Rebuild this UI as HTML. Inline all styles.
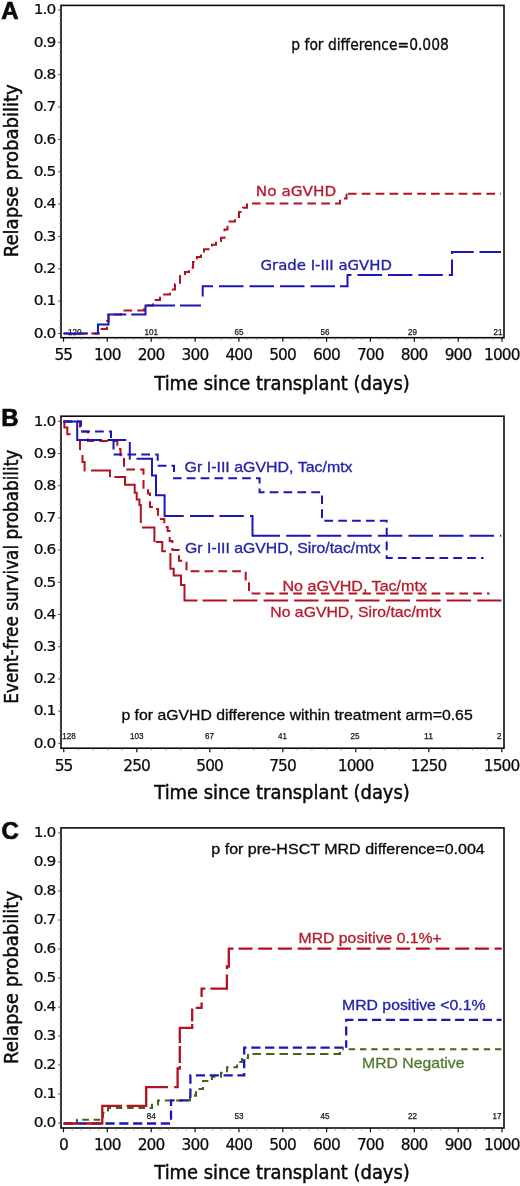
<!DOCTYPE html>
<html lang="en"><head><meta charset="utf-8"><title>Figure</title>
<style>html,body{margin:0;padding:0;background:#fff}svg{display:block}text{white-space:pre}</style>
</head><body>
<svg width="520" height="1186" viewBox="0 0 520 1186">
<rect width="520" height="1186" fill="#fff"/>
<rect x="61" y="5.4" width="443" height="332.3" fill="none" stroke="#0a0a0a" stroke-width="1.6"/>
<text transform="translate(55.5,337.8) scale(1.0,0.91)" font-size="15.4" letter-spacing="-0.9" font-family='"DejaVu Sans",sans-serif' fill="#0a0a0a" stroke="#0a0a0a" stroke-width="0.25" text-anchor="end">0.0</text>
<path d="M58.2,333.5H61" stroke="#444" stroke-width="1"/>
<text transform="translate(55.5,305.4) scale(1.0,0.91)" font-size="15.4" letter-spacing="-0.9" font-family='"DejaVu Sans",sans-serif' fill="#0a0a0a" stroke="#0a0a0a" stroke-width="0.25" text-anchor="end">0.1</text>
<path d="M58.2,301.1H61" stroke="#444" stroke-width="1"/>
<text transform="translate(55.5,273.1) scale(1.0,0.91)" font-size="15.4" letter-spacing="-0.9" font-family='"DejaVu Sans",sans-serif' fill="#0a0a0a" stroke="#0a0a0a" stroke-width="0.25" text-anchor="end">0.2</text>
<path d="M58.2,268.8H61" stroke="#444" stroke-width="1"/>
<text transform="translate(55.5,240.8) scale(1.0,0.91)" font-size="15.4" letter-spacing="-0.9" font-family='"DejaVu Sans",sans-serif' fill="#0a0a0a" stroke="#0a0a0a" stroke-width="0.25" text-anchor="end">0.3</text>
<path d="M58.2,236.4H61" stroke="#444" stroke-width="1"/>
<text transform="translate(55.5,208.4) scale(1.0,0.91)" font-size="15.4" letter-spacing="-0.9" font-family='"DejaVu Sans",sans-serif' fill="#0a0a0a" stroke="#0a0a0a" stroke-width="0.25" text-anchor="end">0.4</text>
<path d="M58.2,204.1H61" stroke="#444" stroke-width="1"/>
<text transform="translate(55.5,176.1) scale(1.0,0.91)" font-size="15.4" letter-spacing="-0.9" font-family='"DejaVu Sans",sans-serif' fill="#0a0a0a" stroke="#0a0a0a" stroke-width="0.25" text-anchor="end">0.5</text>
<path d="M58.2,171.8H61" stroke="#444" stroke-width="1"/>
<text transform="translate(55.5,143.7) scale(1.0,0.91)" font-size="15.4" letter-spacing="-0.9" font-family='"DejaVu Sans",sans-serif' fill="#0a0a0a" stroke="#0a0a0a" stroke-width="0.25" text-anchor="end">0.6</text>
<path d="M58.2,139.4H61" stroke="#444" stroke-width="1"/>
<text transform="translate(55.5,111.3) scale(1.0,0.91)" font-size="15.4" letter-spacing="-0.9" font-family='"DejaVu Sans",sans-serif' fill="#0a0a0a" stroke="#0a0a0a" stroke-width="0.25" text-anchor="end">0.7</text>
<path d="M58.2,107.0H61" stroke="#444" stroke-width="1"/>
<text transform="translate(55.5,79.0) scale(1.0,0.91)" font-size="15.4" letter-spacing="-0.9" font-family='"DejaVu Sans",sans-serif' fill="#0a0a0a" stroke="#0a0a0a" stroke-width="0.25" text-anchor="end">0.8</text>
<path d="M58.2,74.7H61" stroke="#444" stroke-width="1"/>
<text transform="translate(55.5,46.6) scale(1.0,0.91)" font-size="15.4" letter-spacing="-0.9" font-family='"DejaVu Sans",sans-serif' fill="#0a0a0a" stroke="#0a0a0a" stroke-width="0.25" text-anchor="end">0.9</text>
<path d="M58.2,42.3H61" stroke="#444" stroke-width="1"/>
<text transform="translate(55.5,14.3) scale(1.0,0.91)" font-size="15.4" letter-spacing="-0.9" font-family='"DejaVu Sans",sans-serif' fill="#0a0a0a" stroke="#0a0a0a" stroke-width="0.25" text-anchor="end">1.0</text>
<path d="M58.2,10.0H61" stroke="#444" stroke-width="1"/>
<path d="M59.2,327.0H61M59.2,320.6H61M59.2,314.1H61M59.2,307.6H61M59.2,294.7H61M59.2,288.2H61M59.2,281.7H61M59.2,275.3H61M59.2,262.3H61M59.2,255.9H61M59.2,249.4H61M59.2,242.9H61M59.2,230.0H61M59.2,223.5H61M59.2,217.0H61M59.2,210.6H61M59.2,197.6H61M59.2,191.2H61M59.2,184.7H61M59.2,178.2H61M59.2,165.3H61M59.2,158.8H61M59.2,152.3H61M59.2,145.9H61M59.2,132.9H61M59.2,126.5H61M59.2,120.0H61M59.2,113.5H61M59.2,100.6H61M59.2,94.1H61M59.2,87.6H61M59.2,81.2H61M59.2,68.2H61M59.2,61.8H61M59.2,55.3H61M59.2,48.8H61M59.2,35.9H61M59.2,29.4H61M59.2,22.9H61M59.2,16.5H61" stroke="#777" stroke-width="0.7"/>
<path d="M63.5,337.7V341.7" stroke="#0a0a0a" stroke-width="1.2"/>
<text transform="translate(63.35,360.0) scale(1.0,1)" font-size="15.4" letter-spacing="-0.9" font-family='"DejaVu Sans",sans-serif' fill="#0a0a0a" stroke="#0a0a0a" stroke-width="0.25" text-anchor="middle">55</text>
<path d="M107.3,337.7V341.7" stroke="#0a0a0a" stroke-width="1.2"/>
<text transform="translate(107.25,360.0) scale(1.0,1)" font-size="15.4" letter-spacing="-0.9" font-family='"DejaVu Sans",sans-serif' fill="#0a0a0a" stroke="#0a0a0a" stroke-width="0.25" text-anchor="middle">100</text>
<path d="M151.2,337.7V341.7" stroke="#0a0a0a" stroke-width="1.2"/>
<text transform="translate(151.05,360.0) scale(1.0,1)" font-size="15.4" letter-spacing="-0.9" font-family='"DejaVu Sans",sans-serif' fill="#0a0a0a" stroke="#0a0a0a" stroke-width="0.25" text-anchor="middle">200</text>
<path d="M195.1,337.7V341.7" stroke="#0a0a0a" stroke-width="1.2"/>
<text transform="translate(194.95,360.0) scale(1.0,1)" font-size="15.4" letter-spacing="-0.9" font-family='"DejaVu Sans",sans-serif' fill="#0a0a0a" stroke="#0a0a0a" stroke-width="0.25" text-anchor="middle">300</text>
<path d="M238.9,337.7V341.7" stroke="#0a0a0a" stroke-width="1.2"/>
<text transform="translate(238.75,360.0) scale(1.0,1)" font-size="15.4" letter-spacing="-0.9" font-family='"DejaVu Sans",sans-serif' fill="#0a0a0a" stroke="#0a0a0a" stroke-width="0.25" text-anchor="middle">400</text>
<path d="M282.8,337.7V341.7" stroke="#0a0a0a" stroke-width="1.2"/>
<text transform="translate(282.55,360.0) scale(1.0,1)" font-size="15.4" letter-spacing="-0.9" font-family='"DejaVu Sans",sans-serif' fill="#0a0a0a" stroke="#0a0a0a" stroke-width="0.25" text-anchor="middle">500</text>
<path d="M326.6,337.7V341.7" stroke="#0a0a0a" stroke-width="1.2"/>
<text transform="translate(326.45,360.0) scale(1.0,1)" font-size="15.4" letter-spacing="-0.9" font-family='"DejaVu Sans",sans-serif' fill="#0a0a0a" stroke="#0a0a0a" stroke-width="0.25" text-anchor="middle">600</text>
<path d="M370.4,337.7V341.7" stroke="#0a0a0a" stroke-width="1.2"/>
<text transform="translate(370.25,360.0) scale(1.0,1)" font-size="15.4" letter-spacing="-0.9" font-family='"DejaVu Sans",sans-serif' fill="#0a0a0a" stroke="#0a0a0a" stroke-width="0.25" text-anchor="middle">700</text>
<path d="M414.3,337.7V341.7" stroke="#0a0a0a" stroke-width="1.2"/>
<text transform="translate(414.15,360.0) scale(1.0,1)" font-size="15.4" letter-spacing="-0.9" font-family='"DejaVu Sans",sans-serif' fill="#0a0a0a" stroke="#0a0a0a" stroke-width="0.25" text-anchor="middle">800</text>
<path d="M458.2,337.7V341.7" stroke="#0a0a0a" stroke-width="1.2"/>
<text transform="translate(458.05,360.0) scale(1.0,1)" font-size="15.4" letter-spacing="-0.9" font-family='"DejaVu Sans",sans-serif' fill="#0a0a0a" stroke="#0a0a0a" stroke-width="0.25" text-anchor="middle">900</text>
<path d="M502.0,337.7V341.7" stroke="#0a0a0a" stroke-width="1.2"/>
<text transform="translate(501.85,360.0) scale(1.0,1)" font-size="15.4" letter-spacing="-0.9" font-family='"DejaVu Sans",sans-serif' fill="#0a0a0a" stroke="#0a0a0a" stroke-width="0.25" text-anchor="middle">1000</text>
<path d="M72.3,337.7V339.9M81.0,337.7V339.9M89.8,337.7V339.9M98.6,337.7V339.9M116.1,337.7V339.9M124.9,337.7V339.9M133.7,337.7V339.9M142.4,337.7V339.9M160.0,337.7V339.9M168.7,337.7V339.9M177.5,337.7V339.9M186.3,337.7V339.9M203.8,337.7V339.9M212.6,337.7V339.9M221.4,337.7V339.9M230.1,337.7V339.9M247.7,337.7V339.9M256.4,337.7V339.9M265.2,337.7V339.9M274.0,337.7V339.9M291.5,337.7V339.9M300.3,337.7V339.9M309.1,337.7V339.9M317.8,337.7V339.9M335.4,337.7V339.9M344.1,337.7V339.9M352.9,337.7V339.9M361.7,337.7V339.9M379.2,337.7V339.9M388.0,337.7V339.9M396.8,337.7V339.9M405.5,337.7V339.9M423.1,337.7V339.9M431.8,337.7V339.9M440.6,337.7V339.9M449.4,337.7V339.9M466.9,337.7V339.9M475.7,337.7V339.9M484.5,337.7V339.9M493.2,337.7V339.9" stroke="#777" stroke-width="0.7"/>
<text x="154.3" y="389.5" font-size="19.7" font-family='"DejaVu Sans Condensed","DejaVu Sans",sans-serif' fill="#0a0a0a" textLength="255.5" lengthAdjust="spacingAndGlyphs" stroke="#0a0a0a" stroke-width="0.45">Time since transplant (days)</text>
<text transform="translate(18.3,170.7) rotate(-90)" font-size="19.7" font-family='"DejaVu Sans Condensed","DejaVu Sans",sans-serif' fill="#0a0a0a" stroke="#0a0a0a" stroke-width="0.45" text-anchor="middle" textLength="173" lengthAdjust="spacingAndGlyphs">Relapse probability</text>
<text x="1.2" y="18.5" font-size="24" font-family='"Liberation Sans",sans-serif' fill="#0a0a0a" font-weight="bold" stroke="#0a0a0a" stroke-width="0.7">A</text>
<text x="291.3" y="49.5" font-size="15.2" font-family='"DejaVu Sans Condensed","DejaVu Sans",sans-serif' fill="#0a0a0a" textLength="157.5" lengthAdjust="spacingAndGlyphs" stroke="#0a0a0a" stroke-width="0.3">p for difference=0.008</text>
<text x="255.8" y="195.8" font-size="14.6" font-family='"DejaVu Sans Condensed","DejaVu Sans",sans-serif' fill="#b81c2c" textLength="80.5" lengthAdjust="spacingAndGlyphs" stroke="#b81c2c" stroke-width="0.3">No aGVHD</text>
<text x="260.5" y="270.4" font-size="14.8" font-family='"DejaVu Sans Condensed","DejaVu Sans",sans-serif' fill="#2424a8" textLength="131.5" lengthAdjust="spacingAndGlyphs" stroke="#2424a8" stroke-width="0.3">Grade I-III aGVHD</text>
<text x="74.7" y="334.6" font-size="8.8" font-family='"Liberation Sans",sans-serif' fill="#151515" text-anchor="middle" textLength="13.5" lengthAdjust="spacingAndGlyphs" stroke="#151515" stroke-width="0.25">120</text>
<text x="151.2" y="334.6" font-size="8.8" font-family='"Liberation Sans",sans-serif' fill="#151515" text-anchor="middle" textLength="13.5" lengthAdjust="spacingAndGlyphs" stroke="#151515" stroke-width="0.25">101</text>
<text x="239" y="334.6" font-size="8.8" font-family='"Liberation Sans",sans-serif' fill="#151515" text-anchor="middle" textLength="9.0" lengthAdjust="spacingAndGlyphs" stroke="#151515" stroke-width="0.25">65</text>
<text x="325" y="334.6" font-size="8.8" font-family='"Liberation Sans",sans-serif' fill="#151515" text-anchor="middle" textLength="9.0" lengthAdjust="spacingAndGlyphs" stroke="#151515" stroke-width="0.25">56</text>
<text x="412.5" y="334.6" font-size="8.8" font-family='"Liberation Sans",sans-serif' fill="#151515" text-anchor="middle" textLength="9.0" lengthAdjust="spacingAndGlyphs" stroke="#151515" stroke-width="0.25">29</text>
<text x="502.5" y="334.6" font-size="8.8" font-family='"Liberation Sans",sans-serif' fill="#151515" text-anchor="end" textLength="9.0" lengthAdjust="spacingAndGlyphs" stroke="#151515" stroke-width="0.25">21</text>
<path d="M63.5,333.5H100V329H107V321H108.5V314.5H121V310.4H144V305.6H153V300H160V294.6H170V289.5H175V284H180V276H185V272H189V267.8H193V262H197V257H201V252.7H204V249.3H212V244.7H216V241H221V237.7H224.5V229.6H227.5V221.6H235V217H239V212H243V207.7H247V203.4H340V198.5H346.5V193.8" fill="none" stroke="#b4101f" stroke-width="2.0" stroke-dasharray="8.7 5.15"/>
<path d="M346.5,193.8H501" fill="none" stroke="#b4101f" stroke-width="2.0" stroke-dasharray="8.7 5.15" stroke-dashoffset="12.45"/>
<path d="M63.5,333.5 L98,333.5 L98,324.5 L108.5,324.5 L108.5,314.6 L145.5,314.6 L145.5,305.5 L202.7,305.5 L202.7,286.2 L347.5,286.2 L347.5,275 L452,275 L452,252 L501,252" fill="none" stroke="#1a16b8" stroke-width="2.0" stroke-dasharray="24.5 5.75 51.4 5.0 52.85 5.0 21.0 10.7 20.6 6.0 24.5 6.0 24.5 6.0 24.5 6.0 24.5 5.0 22.7 6.0 24.5 6.0 24.4 6.0 24.4 6.0 18.7 5.5 23.7 5.8 22.5 9999"/>
<rect x="61" y="416.2" width="443" height="332.00000000000006" fill="none" stroke="#0a0a0a" stroke-width="1.6"/>
<text transform="translate(55.5,747.6) scale(1.0,0.91)" font-size="15.4" letter-spacing="-0.9" font-family='"DejaVu Sans",sans-serif' fill="#0a0a0a" stroke="#0a0a0a" stroke-width="0.25" text-anchor="end">0.0</text>
<path d="M58.2,743.3H61" stroke="#444" stroke-width="1"/>
<text transform="translate(55.5,715.4) scale(1.0,0.91)" font-size="15.4" letter-spacing="-0.9" font-family='"DejaVu Sans",sans-serif' fill="#0a0a0a" stroke="#0a0a0a" stroke-width="0.25" text-anchor="end">0.1</text>
<path d="M58.2,711.1H61" stroke="#444" stroke-width="1"/>
<text transform="translate(55.5,683.2) scale(1.0,0.91)" font-size="15.4" letter-spacing="-0.9" font-family='"DejaVu Sans",sans-serif' fill="#0a0a0a" stroke="#0a0a0a" stroke-width="0.25" text-anchor="end">0.2</text>
<path d="M58.2,678.9H61" stroke="#444" stroke-width="1"/>
<text transform="translate(55.5,651.0) scale(1.0,0.91)" font-size="15.4" letter-spacing="-0.9" font-family='"DejaVu Sans",sans-serif' fill="#0a0a0a" stroke="#0a0a0a" stroke-width="0.25" text-anchor="end">0.3</text>
<path d="M58.2,646.7H61" stroke="#444" stroke-width="1"/>
<text transform="translate(55.5,618.8) scale(1.0,0.91)" font-size="15.4" letter-spacing="-0.9" font-family='"DejaVu Sans",sans-serif' fill="#0a0a0a" stroke="#0a0a0a" stroke-width="0.25" text-anchor="end">0.4</text>
<path d="M58.2,614.5H61" stroke="#444" stroke-width="1"/>
<text transform="translate(55.5,586.6) scale(1.0,0.91)" font-size="15.4" letter-spacing="-0.9" font-family='"DejaVu Sans",sans-serif' fill="#0a0a0a" stroke="#0a0a0a" stroke-width="0.25" text-anchor="end">0.5</text>
<path d="M58.2,582.3H61" stroke="#444" stroke-width="1"/>
<text transform="translate(55.5,554.4) scale(1.0,0.91)" font-size="15.4" letter-spacing="-0.9" font-family='"DejaVu Sans",sans-serif' fill="#0a0a0a" stroke="#0a0a0a" stroke-width="0.25" text-anchor="end">0.6</text>
<path d="M58.2,550.1H61" stroke="#444" stroke-width="1"/>
<text transform="translate(55.5,522.2) scale(1.0,0.91)" font-size="15.4" letter-spacing="-0.9" font-family='"DejaVu Sans",sans-serif' fill="#0a0a0a" stroke="#0a0a0a" stroke-width="0.25" text-anchor="end">0.7</text>
<path d="M58.2,517.9H61" stroke="#444" stroke-width="1"/>
<text transform="translate(55.5,490.0) scale(1.0,0.91)" font-size="15.4" letter-spacing="-0.9" font-family='"DejaVu Sans",sans-serif' fill="#0a0a0a" stroke="#0a0a0a" stroke-width="0.25" text-anchor="end">0.8</text>
<path d="M58.2,485.7H61" stroke="#444" stroke-width="1"/>
<text transform="translate(55.5,457.8) scale(1.0,0.91)" font-size="15.4" letter-spacing="-0.9" font-family='"DejaVu Sans",sans-serif' fill="#0a0a0a" stroke="#0a0a0a" stroke-width="0.25" text-anchor="end">0.9</text>
<path d="M58.2,453.5H61" stroke="#444" stroke-width="1"/>
<text transform="translate(55.5,425.6) scale(1.0,0.91)" font-size="15.4" letter-spacing="-0.9" font-family='"DejaVu Sans",sans-serif' fill="#0a0a0a" stroke="#0a0a0a" stroke-width="0.25" text-anchor="end">1.0</text>
<path d="M58.2,421.3H61" stroke="#444" stroke-width="1"/>
<path d="M59.2,736.9H61M59.2,730.4H61M59.2,724.0H61M59.2,717.5H61M59.2,704.7H61M59.2,698.2H61M59.2,691.8H61M59.2,685.3H61M59.2,672.5H61M59.2,666.0H61M59.2,659.6H61M59.2,653.1H61M59.2,640.3H61M59.2,633.8H61M59.2,627.4H61M59.2,620.9H61M59.2,608.1H61M59.2,601.6H61M59.2,595.2H61M59.2,588.7H61M59.2,575.9H61M59.2,569.4H61M59.2,563.0H61M59.2,556.5H61M59.2,543.7H61M59.2,537.2H61M59.2,530.8H61M59.2,524.3H61M59.2,511.5H61M59.2,505.0H61M59.2,498.6H61M59.2,492.1H61M59.2,479.3H61M59.2,472.8H61M59.2,466.4H61M59.2,459.9H61M59.2,447.1H61M59.2,440.6H61M59.2,434.2H61M59.2,427.7H61" stroke="#777" stroke-width="0.7"/>
<path d="M63.8,748.3V752.3" stroke="#0a0a0a" stroke-width="1.2"/>
<text transform="translate(63.55,770.8) scale(1.0,1)" font-size="15.4" letter-spacing="-0.9" font-family='"DejaVu Sans",sans-serif' fill="#0a0a0a" stroke="#0a0a0a" stroke-width="0.25" text-anchor="middle">55</text>
<path d="M136.8,748.3V752.3" stroke="#0a0a0a" stroke-width="1.2"/>
<text transform="translate(136.65,770.8) scale(1.0,1)" font-size="15.4" letter-spacing="-0.9" font-family='"DejaVu Sans",sans-serif' fill="#0a0a0a" stroke="#0a0a0a" stroke-width="0.25" text-anchor="middle">250</text>
<path d="M209.8,748.3V752.3" stroke="#0a0a0a" stroke-width="1.2"/>
<text transform="translate(209.65,770.8) scale(1.0,1)" font-size="15.4" letter-spacing="-0.9" font-family='"DejaVu Sans",sans-serif' fill="#0a0a0a" stroke="#0a0a0a" stroke-width="0.25" text-anchor="middle">500</text>
<path d="M282.8,748.3V752.3" stroke="#0a0a0a" stroke-width="1.2"/>
<text transform="translate(282.55,770.8) scale(1.0,1)" font-size="15.4" letter-spacing="-0.9" font-family='"DejaVu Sans",sans-serif' fill="#0a0a0a" stroke="#0a0a0a" stroke-width="0.25" text-anchor="middle">750</text>
<path d="M355.8,748.3V752.3" stroke="#0a0a0a" stroke-width="1.2"/>
<text transform="translate(355.55,770.8) scale(1.0,1)" font-size="15.4" letter-spacing="-0.9" font-family='"DejaVu Sans",sans-serif' fill="#0a0a0a" stroke="#0a0a0a" stroke-width="0.25" text-anchor="middle">1000</text>
<path d="M428.8,748.3V752.3" stroke="#0a0a0a" stroke-width="1.2"/>
<text transform="translate(428.55,770.8) scale(1.0,1)" font-size="15.4" letter-spacing="-0.9" font-family='"DejaVu Sans",sans-serif' fill="#0a0a0a" stroke="#0a0a0a" stroke-width="0.25" text-anchor="middle">1250</text>
<path d="M501.8,748.3V752.3" stroke="#0a0a0a" stroke-width="1.2"/>
<text transform="translate(501.55,770.8) scale(1.0,1)" font-size="15.4" letter-spacing="-0.9" font-family='"DejaVu Sans",sans-serif' fill="#0a0a0a" stroke="#0a0a0a" stroke-width="0.25" text-anchor="middle">1500</text>
<path d="M78.3,748.3V750.5M93.0,748.3V750.5M107.5,748.3V750.5M122.2,748.3V750.5M151.3,748.3V750.5M165.9,748.3V750.5M180.6,748.3V750.5M195.2,748.3V750.5M224.3,748.3V750.5M238.9,748.3V750.5M253.6,748.3V750.5M268.1,748.3V750.5M297.4,748.3V750.5M311.9,748.3V750.5M326.6,748.3V750.5M341.1,748.3V750.5M370.4,748.3V750.5M384.9,748.3V750.5M399.6,748.3V750.5M414.1,748.3V750.5M443.4,748.3V750.5M457.9,748.3V750.5M472.6,748.3V750.5M487.1,748.3V750.5" stroke="#777" stroke-width="0.7"/>
<text x="154.3" y="799.2" font-size="19.7" font-family='"DejaVu Sans Condensed","DejaVu Sans",sans-serif' fill="#0a0a0a" textLength="255.5" lengthAdjust="spacingAndGlyphs" stroke="#0a0a0a" stroke-width="0.45">Time since transplant (days)</text>
<text transform="translate(17.6,576.7) rotate(-90)" font-size="19.7" font-family='"DejaVu Sans Condensed","DejaVu Sans",sans-serif' fill="#0a0a0a" stroke="#0a0a0a" stroke-width="0.45" text-anchor="middle" textLength="254" lengthAdjust="spacingAndGlyphs">Event-free survival probability</text>
<text x="1.3" y="426" font-size="24" font-family='"Liberation Sans",sans-serif' fill="#0a0a0a" font-weight="bold" stroke="#0a0a0a" stroke-width="0.7">B</text>
<text x="121.4" y="720" font-size="14.3" font-family='"Liberation Sans",sans-serif' fill="#0a0a0a" textLength="351.3" lengthAdjust="spacingAndGlyphs" stroke="#0a0a0a" stroke-width="0.3">p for aGVHD difference within treatment arm=0.65</text>
<text x="184.6" y="471.6" font-size="14.3" font-family='"Liberation Sans",sans-serif' fill="#2424a8" textLength="168" lengthAdjust="spacingAndGlyphs" stroke="#2424a8" stroke-width="0.3">Gr I-III aGVHD, Tac/mtx</text>
<text x="185.1" y="552.6" font-size="14.3" font-family='"Liberation Sans",sans-serif' fill="#2424a8" textLength="195.5" lengthAdjust="spacingAndGlyphs" stroke="#2424a8" stroke-width="0.3">Gr I-III aGVHD, Siro/tac/mtx</text>
<text x="282.5" y="591.3" font-size="14.3" font-family='"Liberation Sans",sans-serif' fill="#b81c2c" textLength="144.5" lengthAdjust="spacingAndGlyphs" stroke="#b81c2c" stroke-width="0.3">No aGVHD, Tac/mtx</text>
<text x="270.3" y="616.5" font-size="14.3" font-family='"Liberation Sans",sans-serif' fill="#b81c2c" textLength="171" lengthAdjust="spacingAndGlyphs" stroke="#b81c2c" stroke-width="0.3">No aGVHD, Siro/tac/mtx</text>
<text x="68.9" y="739.2" font-size="8.8" font-family='"Liberation Sans",sans-serif' fill="#151515" text-anchor="middle" textLength="13.5" lengthAdjust="spacingAndGlyphs" stroke="#151515" stroke-width="0.25">128</text>
<text x="136.8" y="739.2" font-size="8.8" font-family='"Liberation Sans",sans-serif' fill="#151515" text-anchor="middle" textLength="13.5" lengthAdjust="spacingAndGlyphs" stroke="#151515" stroke-width="0.25">103</text>
<text x="209.5" y="739.2" font-size="8.8" font-family='"Liberation Sans",sans-serif' fill="#151515" text-anchor="middle" textLength="9.0" lengthAdjust="spacingAndGlyphs" stroke="#151515" stroke-width="0.25">67</text>
<text x="282.5" y="739.2" font-size="8.8" font-family='"Liberation Sans",sans-serif' fill="#151515" text-anchor="middle" textLength="9.0" lengthAdjust="spacingAndGlyphs" stroke="#151515" stroke-width="0.25">41</text>
<text x="355" y="739.2" font-size="8.8" font-family='"Liberation Sans",sans-serif' fill="#151515" text-anchor="middle" textLength="9.0" lengthAdjust="spacingAndGlyphs" stroke="#151515" stroke-width="0.25">25</text>
<text x="428.5" y="739.2" font-size="8.8" font-family='"Liberation Sans",sans-serif' fill="#151515" text-anchor="middle" textLength="9.0" lengthAdjust="spacingAndGlyphs" stroke="#151515" stroke-width="0.25">11</text>
<text x="501.5" y="739.2" font-size="8.8" font-family='"Liberation Sans",sans-serif' fill="#151515" text-anchor="end" textLength="4.5" lengthAdjust="spacingAndGlyphs" stroke="#151515" stroke-width="0.25">2</text>
<path d="M63.5,421.5H80V431.5H88V441H117.3V449H120.5V457H124V469.5H143.5V487.7H148V493.5H150V507H155.6V509H158V519H164.3V527H167.7V531H169.7V541H172.4V550H179V560.8H186.5V571.3H245.7V582H249V593.5H489.5" fill="none" stroke="#b4101f" stroke-width="2.0" stroke-dasharray="8.7 5.15"/>
<path d="M63.5,421.5 L64.4,421.5 L64.4,427.6 L67.3,427.6 L67.3,434.3 L69.7,434.3 L69.7,440 L80,440 L80,449 L82.5,449 L82.5,462 L84.6,462 L84.6,470.6 L110,470.6 L110,477 L125,477 L125,484.8 L134.7,484.8 L134.7,492.8 L136.7,492.8 L136.7,499.5 L139.4,499.5 L139.4,505 L140.8,505 L140.8,527.5 L154.4,527.5 L154.4,542 L162.3,542 L162.3,551.3 L170.4,551.3 L170.4,568.8 L173.7,568.8 L173.7,575.6 L181,575.6 L181,585 L184.5,585 L184.5,600.5 L501.5,600.5" fill="none" stroke="#b4101f" stroke-width="2.0" stroke-dasharray="19.7 13.8 11.5 7.5 18.5 5.6 25.4 4.4 72.4 5.7 26.9 1.4 19.5 6.1 74.6 5.0 24.4 6.1 24.43 6.1 24.43 6.1 24.43 6.1 24.43 6.1 24.43 6.1 24.43 6.1 24.43 6.1 24.43 6.1 25.26 9999"/>
<path d="M63.5,421.5H81V431.5H111V440H113.5V454.5H157.7V465.8H174V478.3H259.6V492.3H322V520.7H386.7V558H483.6" fill="none" stroke="#1a16b8" stroke-width="2.0" stroke-dasharray="8.7 5.15"/>
<path d="M63.5,421.5 L77.2,421.5 L77.2,440 L129.8,440 L129.8,458.8 L152,458.8 L152,475.5 L156,475.5 L156,495.2 L164.6,495.2 L164.6,516 L252.5,516 L252.5,535.8 L501.3,535.8" fill="none" stroke="#1a16b8" stroke-width="2.0" stroke-dasharray="57.0 5.5 18.75 5.55 17.5 6.0 104.45 6.25 23.75 5.75 24.25 6.25 49.8 6.25 24.45 6.1 24.45 6.1 24.45 6.1 24.45 6.1 24.45 6.1 24.45 6.1 24.45 6.1 2.2 9999"/>
<rect x="61" y="827.9" width="443" height="300.1" fill="none" stroke="#0a0a0a" stroke-width="1.6"/>
<text transform="translate(55.5,1127.3) scale(1.0,0.865)" font-size="15.4" letter-spacing="-0.9" font-family='"DejaVu Sans",sans-serif' fill="#0a0a0a" stroke="#0a0a0a" stroke-width="0.25" text-anchor="end">0.0</text>
<path d="M58.2,1123.0H61" stroke="#444" stroke-width="1"/>
<text transform="translate(55.5,1098.3) scale(1.0,0.865)" font-size="15.4" letter-spacing="-0.9" font-family='"DejaVu Sans",sans-serif' fill="#0a0a0a" stroke="#0a0a0a" stroke-width="0.25" text-anchor="end">0.1</text>
<path d="M58.2,1094.0H61" stroke="#444" stroke-width="1"/>
<text transform="translate(55.5,1069.3) scale(1.0,0.865)" font-size="15.4" letter-spacing="-0.9" font-family='"DejaVu Sans",sans-serif' fill="#0a0a0a" stroke="#0a0a0a" stroke-width="0.25" text-anchor="end">0.2</text>
<path d="M58.2,1065.0H61" stroke="#444" stroke-width="1"/>
<text transform="translate(55.5,1040.3) scale(1.0,0.865)" font-size="15.4" letter-spacing="-0.9" font-family='"DejaVu Sans",sans-serif' fill="#0a0a0a" stroke="#0a0a0a" stroke-width="0.25" text-anchor="end">0.3</text>
<path d="M58.2,1036.0H61" stroke="#444" stroke-width="1"/>
<text transform="translate(55.5,1011.3) scale(1.0,0.865)" font-size="15.4" letter-spacing="-0.9" font-family='"DejaVu Sans",sans-serif' fill="#0a0a0a" stroke="#0a0a0a" stroke-width="0.25" text-anchor="end">0.4</text>
<path d="M58.2,1007.0H61" stroke="#444" stroke-width="1"/>
<text transform="translate(55.5,982.3) scale(1.0,0.865)" font-size="15.4" letter-spacing="-0.9" font-family='"DejaVu Sans",sans-serif' fill="#0a0a0a" stroke="#0a0a0a" stroke-width="0.25" text-anchor="end">0.5</text>
<path d="M58.2,978.0H61" stroke="#444" stroke-width="1"/>
<text transform="translate(55.5,953.3) scale(1.0,0.865)" font-size="15.4" letter-spacing="-0.9" font-family='"DejaVu Sans",sans-serif' fill="#0a0a0a" stroke="#0a0a0a" stroke-width="0.25" text-anchor="end">0.6</text>
<path d="M58.2,949.0H61" stroke="#444" stroke-width="1"/>
<text transform="translate(55.5,924.3) scale(1.0,0.865)" font-size="15.4" letter-spacing="-0.9" font-family='"DejaVu Sans",sans-serif' fill="#0a0a0a" stroke="#0a0a0a" stroke-width="0.25" text-anchor="end">0.7</text>
<path d="M58.2,920.0H61" stroke="#444" stroke-width="1"/>
<text transform="translate(55.5,895.3) scale(1.0,0.865)" font-size="15.4" letter-spacing="-0.9" font-family='"DejaVu Sans",sans-serif' fill="#0a0a0a" stroke="#0a0a0a" stroke-width="0.25" text-anchor="end">0.8</text>
<path d="M58.2,891.0H61" stroke="#444" stroke-width="1"/>
<text transform="translate(55.5,866.3) scale(1.0,0.865)" font-size="15.4" letter-spacing="-0.9" font-family='"DejaVu Sans",sans-serif' fill="#0a0a0a" stroke="#0a0a0a" stroke-width="0.25" text-anchor="end">0.9</text>
<path d="M58.2,862.0H61" stroke="#444" stroke-width="1"/>
<text transform="translate(55.5,837.3) scale(1.0,0.865)" font-size="15.4" letter-spacing="-0.9" font-family='"DejaVu Sans",sans-serif' fill="#0a0a0a" stroke="#0a0a0a" stroke-width="0.25" text-anchor="end">1.0</text>
<path d="M58.2,833.0H61" stroke="#444" stroke-width="1"/>
<path d="M59.2,1117.2H61M59.2,1111.4H61M59.2,1105.6H61M59.2,1099.8H61M59.2,1088.2H61M59.2,1082.4H61M59.2,1076.6H61M59.2,1070.8H61M59.2,1059.2H61M59.2,1053.4H61M59.2,1047.6H61M59.2,1041.8H61M59.2,1030.2H61M59.2,1024.4H61M59.2,1018.6H61M59.2,1012.8H61M59.2,1001.2H61M59.2,995.4H61M59.2,989.6H61M59.2,983.8H61M59.2,972.2H61M59.2,966.4H61M59.2,960.6H61M59.2,954.8H61M59.2,943.2H61M59.2,937.4H61M59.2,931.6H61M59.2,925.8H61M59.2,914.2H61M59.2,908.4H61M59.2,902.6H61M59.2,896.8H61M59.2,885.2H61M59.2,879.4H61M59.2,873.6H61M59.2,867.8H61M59.2,856.2H61M59.2,850.4H61M59.2,844.6H61M59.2,838.8H61" stroke="#777" stroke-width="0.7"/>
<path d="M63.5,1128.3V1132.3" stroke="#0a0a0a" stroke-width="1.2"/>
<text transform="translate(63.35,1150.0) scale(1.0,1)" font-size="15.4" letter-spacing="-0.9" font-family='"DejaVu Sans",sans-serif' fill="#0a0a0a" stroke="#0a0a0a" stroke-width="0.25" text-anchor="middle">0</text>
<path d="M107.3,1128.3V1132.3" stroke="#0a0a0a" stroke-width="1.2"/>
<text transform="translate(107.25,1150.0) scale(1.0,1)" font-size="15.4" letter-spacing="-0.9" font-family='"DejaVu Sans",sans-serif' fill="#0a0a0a" stroke="#0a0a0a" stroke-width="0.25" text-anchor="middle">100</text>
<path d="M151.2,1128.3V1132.3" stroke="#0a0a0a" stroke-width="1.2"/>
<text transform="translate(151.05,1150.0) scale(1.0,1)" font-size="15.4" letter-spacing="-0.9" font-family='"DejaVu Sans",sans-serif' fill="#0a0a0a" stroke="#0a0a0a" stroke-width="0.25" text-anchor="middle">200</text>
<path d="M195.1,1128.3V1132.3" stroke="#0a0a0a" stroke-width="1.2"/>
<text transform="translate(194.95,1150.0) scale(1.0,1)" font-size="15.4" letter-spacing="-0.9" font-family='"DejaVu Sans",sans-serif' fill="#0a0a0a" stroke="#0a0a0a" stroke-width="0.25" text-anchor="middle">300</text>
<path d="M238.9,1128.3V1132.3" stroke="#0a0a0a" stroke-width="1.2"/>
<text transform="translate(238.75,1150.0) scale(1.0,1)" font-size="15.4" letter-spacing="-0.9" font-family='"DejaVu Sans",sans-serif' fill="#0a0a0a" stroke="#0a0a0a" stroke-width="0.25" text-anchor="middle">400</text>
<path d="M282.8,1128.3V1132.3" stroke="#0a0a0a" stroke-width="1.2"/>
<text transform="translate(282.55,1150.0) scale(1.0,1)" font-size="15.4" letter-spacing="-0.9" font-family='"DejaVu Sans",sans-serif' fill="#0a0a0a" stroke="#0a0a0a" stroke-width="0.25" text-anchor="middle">500</text>
<path d="M326.6,1128.3V1132.3" stroke="#0a0a0a" stroke-width="1.2"/>
<text transform="translate(326.45,1150.0) scale(1.0,1)" font-size="15.4" letter-spacing="-0.9" font-family='"DejaVu Sans",sans-serif' fill="#0a0a0a" stroke="#0a0a0a" stroke-width="0.25" text-anchor="middle">600</text>
<path d="M370.4,1128.3V1132.3" stroke="#0a0a0a" stroke-width="1.2"/>
<text transform="translate(370.25,1150.0) scale(1.0,1)" font-size="15.4" letter-spacing="-0.9" font-family='"DejaVu Sans",sans-serif' fill="#0a0a0a" stroke="#0a0a0a" stroke-width="0.25" text-anchor="middle">700</text>
<path d="M414.3,1128.3V1132.3" stroke="#0a0a0a" stroke-width="1.2"/>
<text transform="translate(414.15,1150.0) scale(1.0,1)" font-size="15.4" letter-spacing="-0.9" font-family='"DejaVu Sans",sans-serif' fill="#0a0a0a" stroke="#0a0a0a" stroke-width="0.25" text-anchor="middle">800</text>
<path d="M458.2,1128.3V1132.3" stroke="#0a0a0a" stroke-width="1.2"/>
<text transform="translate(458.05,1150.0) scale(1.0,1)" font-size="15.4" letter-spacing="-0.9" font-family='"DejaVu Sans",sans-serif' fill="#0a0a0a" stroke="#0a0a0a" stroke-width="0.25" text-anchor="middle">900</text>
<path d="M502.0,1128.3V1132.3" stroke="#0a0a0a" stroke-width="1.2"/>
<text transform="translate(501.85,1150.0) scale(1.0,1)" font-size="15.4" letter-spacing="-0.9" font-family='"DejaVu Sans",sans-serif' fill="#0a0a0a" stroke="#0a0a0a" stroke-width="0.25" text-anchor="middle">1000</text>
<path d="M72.3,1128.3V1130.5M81.0,1128.3V1130.5M89.8,1128.3V1130.5M98.6,1128.3V1130.5M116.1,1128.3V1130.5M124.9,1128.3V1130.5M133.7,1128.3V1130.5M142.4,1128.3V1130.5M160.0,1128.3V1130.5M168.7,1128.3V1130.5M177.5,1128.3V1130.5M186.3,1128.3V1130.5M203.8,1128.3V1130.5M212.6,1128.3V1130.5M221.4,1128.3V1130.5M230.1,1128.3V1130.5M247.7,1128.3V1130.5M256.4,1128.3V1130.5M265.2,1128.3V1130.5M274.0,1128.3V1130.5M291.5,1128.3V1130.5M300.3,1128.3V1130.5M309.1,1128.3V1130.5M317.8,1128.3V1130.5M335.4,1128.3V1130.5M344.1,1128.3V1130.5M352.9,1128.3V1130.5M361.7,1128.3V1130.5M379.2,1128.3V1130.5M388.0,1128.3V1130.5M396.8,1128.3V1130.5M405.5,1128.3V1130.5M423.1,1128.3V1130.5M431.8,1128.3V1130.5M440.6,1128.3V1130.5M449.4,1128.3V1130.5M466.9,1128.3V1130.5M475.7,1128.3V1130.5M484.5,1128.3V1130.5M493.2,1128.3V1130.5" stroke="#777" stroke-width="0.7"/>
<text x="154.3" y="1178.6" font-size="19.7" font-family='"DejaVu Sans Condensed","DejaVu Sans",sans-serif' fill="#0a0a0a" textLength="255.5" lengthAdjust="spacingAndGlyphs" stroke="#0a0a0a" stroke-width="0.45">Time since transplant (days)</text>
<text transform="translate(17.5,977.4) rotate(-90)" font-size="19.7" font-family='"DejaVu Sans Condensed","DejaVu Sans",sans-serif' fill="#0a0a0a" stroke="#0a0a0a" stroke-width="0.45" text-anchor="middle" textLength="173" lengthAdjust="spacingAndGlyphs">Relapse probability</text>
<text x="1.6" y="839.2" font-size="24" font-family='"Liberation Sans",sans-serif' fill="#0a0a0a" font-weight="bold" stroke="#0a0a0a" stroke-width="0.7">C</text>
<text x="211.3" y="854.3" font-size="14.3" font-family='"Liberation Sans",sans-serif' fill="#0a0a0a" textLength="273.5" lengthAdjust="spacingAndGlyphs" stroke="#0a0a0a" stroke-width="0.3">p for pre-HSCT MRD difference=0.004</text>
<text x="298.6" y="942.5" font-size="14.3" font-family='"Liberation Sans",sans-serif' fill="#b81c2c" textLength="143.2" lengthAdjust="spacingAndGlyphs" stroke="#b81c2c" stroke-width="0.3">MRD positive 0.1%+</text>
<text x="342" y="1010" font-size="14.3" font-family='"Liberation Sans",sans-serif' fill="#2424a8" textLength="143.5" lengthAdjust="spacingAndGlyphs" stroke="#2424a8" stroke-width="0.3">MRD positive &lt;0.1%</text>
<text x="362" y="1067.5" font-size="14.3" font-family='"Liberation Sans",sans-serif' fill="#527a32" textLength="102.5" lengthAdjust="spacingAndGlyphs" stroke="#527a32" stroke-width="0.3">MRD Negative</text>
<text x="151.2" y="1119.3" font-size="8.8" font-family='"Liberation Sans",sans-serif' fill="#151515" text-anchor="middle" textLength="9.0" lengthAdjust="spacingAndGlyphs" stroke="#151515" stroke-width="0.25">84</text>
<text x="239" y="1119.3" font-size="8.8" font-family='"Liberation Sans",sans-serif' fill="#151515" text-anchor="middle" textLength="9.0" lengthAdjust="spacingAndGlyphs" stroke="#151515" stroke-width="0.25">53</text>
<text x="325" y="1119.3" font-size="8.8" font-family='"Liberation Sans",sans-serif' fill="#151515" text-anchor="middle" textLength="9.0" lengthAdjust="spacingAndGlyphs" stroke="#151515" stroke-width="0.25">45</text>
<text x="412.5" y="1119.3" font-size="8.8" font-family='"Liberation Sans",sans-serif' fill="#151515" text-anchor="middle" textLength="9.0" lengthAdjust="spacingAndGlyphs" stroke="#151515" stroke-width="0.25">22</text>
<text x="501.5" y="1119.3" font-size="8.8" font-family='"Liberation Sans",sans-serif' fill="#151515" text-anchor="end" textLength="9.0" lengthAdjust="spacingAndGlyphs" stroke="#151515" stroke-width="0.25">17</text>
<path d="M63.5,1123.5H77V1119.7H103V1112.7H108V1108H152V1104.7H158V1100.5H190V1095.6H196V1089H203V1081H212V1076.7H221V1072.7H227V1067.3H237V1062H242V1058H248V1054" fill="none" stroke="#48621e" stroke-width="2.1" stroke-dasharray="6.6 4.7"/>
<path d="M248,1054H340V1049.2H342.5" fill="none" stroke="#48621e" stroke-width="2.1" stroke-dasharray="8.5 5" stroke-dashoffset="9.00"/>
<path d="M342.5,1049.2H501.5" fill="none" stroke="#48621e" stroke-width="2.1" stroke-dasharray="6.3 4.95" stroke-dashoffset="4.95"/>
<path d="M63.5,1123.5H171" fill="none" stroke="#1a16b8" stroke-width="2.3" stroke-dasharray="9.2 4.65" stroke-dashoffset="13.50"/>
<path d="M171,1123.5V1100.3H190.4V1075.4H244.2V1047.7H346.2" fill="none" stroke="#1a16b8" stroke-width="2.3" stroke-dasharray="9.2 4.65" stroke-dashoffset="10.15"/>
<path d="M346.2,1047.7V1019.8H501.5" fill="none" stroke="#1a16b8" stroke-width="2.3" stroke-dasharray="9.2 4.65" stroke-dashoffset="1.75"/>
<path d="M63.5,1123.5 L102.3,1123.5 L102.3,1105.8 L146.2,1105.8 L146.2,1087.2 L177.6,1087.2 L177.6,1068.5 L179.8,1068.5 L179.8,1027.8 L192.2,1027.8 L192.2,1007.8 L201.6,1007.8 L201.6,988.6 L226.9,988.6 L226.9,966.5 L228.8,966.5 L228.8,948.6 L501.8,948.6" fill="none" stroke="#b4101f" stroke-width="2.3" stroke-dasharray="13.5 8.0 54.7 4.6 60.0 6.2 26.8 3.0 17.0 3.0 31.4 2.5 13.0 4.3 11.1 5.5 12.1 5.1 30.5 5.6 27.0 5.0 14.0 5.7 14.0 5.7 14.0 5.7 14.0 5.7 14.0 5.7 14.0 5.7 14.0 5.7 14.0 5.7 14.0 5.7 14.0 5.7 14.0 5.7 14.0 5.7 14.0 5.7 8.2 9999"/>
</svg>
</body></html>
